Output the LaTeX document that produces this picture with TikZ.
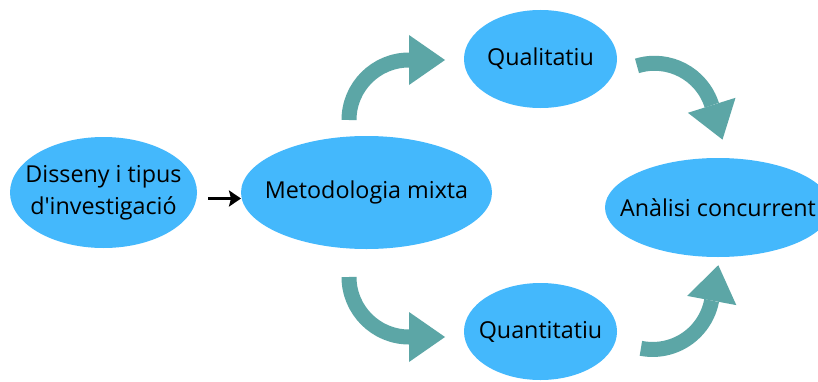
\documentclass[tikz,border=0pt]{standalone}
\usepackage{fontspec}
\setmainfont{Open Sans}[Ligatures=TeXOff]
\usetikzlibrary{shapes.geometric,arrows.meta}
\definecolor{bubblue}{HTML}{44B8FC}
\definecolor{tealc}{HTML}{5CA6A6}
\begin{document}
\begin{tikzpicture}[x=1pt,y=1pt,
  bubble/.style={ellipse, fill=bubblue, draw=none, inner sep=0pt, outer sep=0pt},
  btext/.style={font=\fontsize{23.3}{32}\selectfont, align=center, text=black, inner sep=0pt},
  shaft/.style={draw=tealc, line width=15pt},
  head/.style={fill=tealc},
  link/.style={draw=black, line width=3.6pt, -{Stealth[length=12pt,width=16pt,inset=2pt]}}]
\useasboundingbox (0,0) rectangle (818,381);
\fill[white] (0,0) rectangle (818,381);
% bubbles
\node[bubble, minimum width=187pt, minimum height=111pt,
  label={[btext]center:Disseny i tipus\\d\textquotesingle investigació}] (d) at (103.5,188.5) {};
\node[bubble, minimum width=251pt, minimum height=113pt,
  label={[btext]center:Metodologia mixta}] (m) at (366.5,188.5) {};
\node[bubble, minimum width=153pt, minimum height=98pt,
  label={[btext]center:Qualitatiu}] (ql) at (540.5,322) {};
\node[bubble, minimum width=153pt, minimum height=97pt,
  label={[btext]center:Quantitatiu}] (qn) at (540.5,49.5) {};
\node[bubble, minimum width=226pt, minimum height=99pt,
  label={[btext]center:Anàlisi concurrent}] (a) at (718,173.5) {};
% black arrow
\draw[link] ([shift={(11pt,-6pt)}]d.east) -- ([yshift=-6pt]m.west);
% teal curved arrows
\coordinate (s1) at (349,261);
\draw[shaft] (s1) arc[start angle=180, end angle=90, radius=60];
\fill[head] (409,346) -- (445,321) -- (409,296) -- cycle;
\coordinate (s2) at (637,315.1);
\draw[shaft] (s2) arc[start angle=107, end angle=17.5, radius=60];
\fill[head] (735.5,283.2) -- (722.5,241.4) -- (687.9,268.2) -- cycle;
\coordinate (s3) at (349,104);
\draw[shaft] (s3) arc[start angle=180, end angle=270, radius=60];
\fill[head] (409,69) -- (445,44) -- (409,19) -- cycle;
\coordinate (s4) at (640.9,32.7);
\draw[shaft] (s4) arc[start angle=258.7, end angle=349.4, radius=60];
\fill[head] (736.3,75.9) -- (718.3,115.8) -- (687.1,85.1) -- cycle;
\end{tikzpicture}
\end{document}
